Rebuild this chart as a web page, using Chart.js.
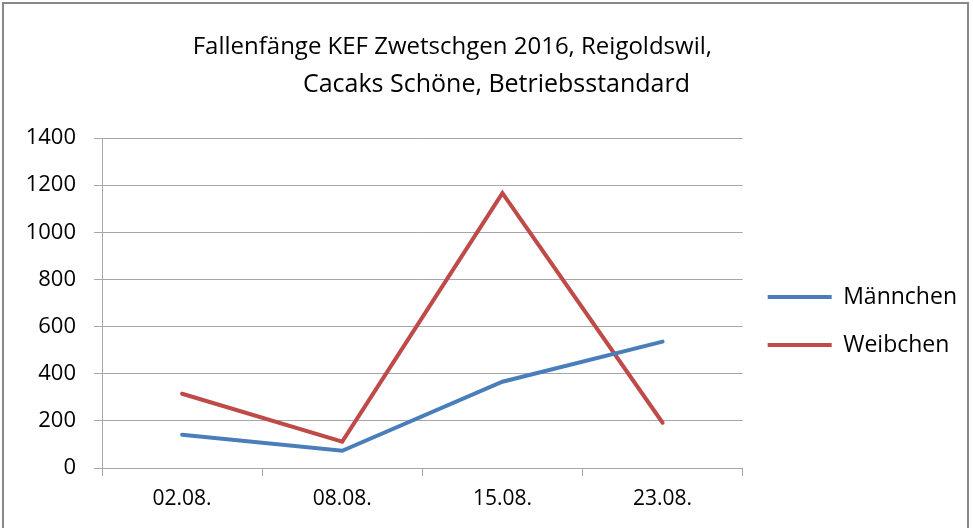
<!DOCTYPE html>
<html>
<head>
<meta charset="utf-8">
<script src="https://cdn.jsdelivr.net/npm/chart.js@4.4.0/dist/chart.umd.min.js"></script>
<style>
  html, body { margin: 0; padding: 0; background: #fff; }
  #frame { position: absolute; left: 2px; top: 2px; width: 963px; height: 540px; border: 2px solid #888; }
  #wrap { position: absolute; left: 0; top: 0; width: 973px; height: 528px; }
</style>
</head>
<body>
<div id="frame"></div>
<div id="wrap"><canvas id="chart"></canvas></div>
<script>
const dates = ["02.08.", "08.08.", "15.08.", "23.08."];
const maennchen = [141, 73, 366, 536];
const weibchen = [315, 112, 1166, 192];
const yMax = 1400;
const yStep = 200;

// the two title lines sit off-centre in the original, spaces nudge them
const titleLine1 = "Fallenfänge KEF Zwetschgen 2016, Reigoldswil,          ";
const titleLine2 = "    Cacaks Schöne, Betriebsstandard";

Chart.defaults.font.family = "'Open Sans', sans-serif";
Chart.defaults.color = "#000";

const gridColor = "#a6a6a6";

new Chart(document.getElementById("chart"), {
  type: "line",
  data: {
    labels: dates,
    datasets: [
      {
        label: "Männchen",
        data: maennchen,
        borderColor: "#4a7ebb",
        backgroundColor: "#4a7ebb",
        borderWidth: 4,
        borderCapStyle: "round",
        pointRadius: 0,
        tension: 0,
      },
      {
        label: "Weibchen",
        data: weibchen,
        borderColor: "#be4b48",
        backgroundColor: "#be4b48",
        borderWidth: 4,
        borderCapStyle: "round",
        pointRadius: 0,
        tension: 0,
      },
    ],
  },
  options: {
    responsive: true,
    maintainAspectRatio: false,
    animation: false,
    layout: { padding: { left: 0, right: 6, top: 0, bottom: 0 } },
    plugins: {
      title: {
        display: true,
        text: titleLine1,
        font: { size: 24, weight: "normal", lineHeight: "38px" },
        padding: { top: 28, bottom: 0 },
      },
      subtitle: {
        display: true,
        text: titleLine2,
        color: "#000",
        font: { size: 25, weight: "normal", lineHeight: "38px" },
        padding: { top: 0, bottom: 34 },
      },
      legend: {
        position: "right",
        fullSize: false,
        title: { display: true, text: "", font: { size: 10 }, padding: { top: 0, bottom: 24 } },
        labels: {
          boxWidth: 64,
          boxHeight: 0,
          padding: 25,
          font: { size: 23 },
        },
      },
      tooltip: { enabled: false },
    },
    scales: {
      x: {
        offset: true,
        grid: { offset: true, drawOnChartArea: false, color: gridColor, tickLength: 8 },
        border: { color: gridColor },
        ticks: { font: { size: 21 }, padding: 10 },
        afterFit(scale) { scale.height = 60; },
      },
      y: {
        min: 0,
        max: yMax,
        ticks: { stepSize: yStep, font: { size: 22 }, padding: 18, callback: (v) => String(v) },
        grid: { color: gridColor, tickLength: 8 },
        border: { color: gridColor },
        afterFit(scale) { scale.width = 102; },
      },
    },
  },
});
</script>
</body>
</html>
